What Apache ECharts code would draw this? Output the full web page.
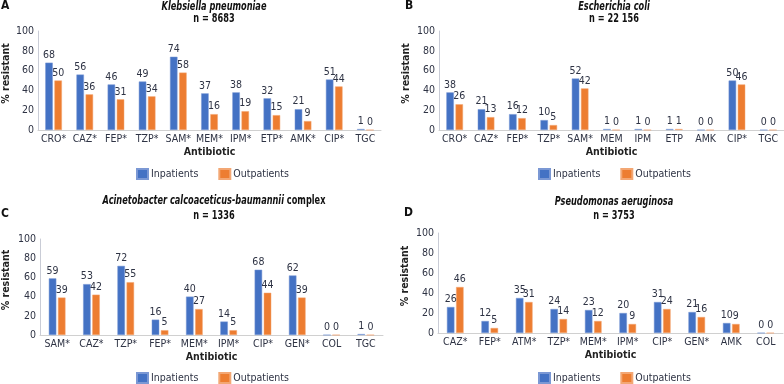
<!DOCTYPE html>
<html>
<head>
<meta charset="utf-8">
<script src="https://cdn.jsdelivr.net/npm/echarts@6/dist/echarts.min.js"></script>
<style>
  html, body { margin: 0; padding: 0; background: #fff; }
  #chart { width: 784px; height: 384px; }
</style>
</head>
<body>
<div id="chart"></div>
<script>
// data
const catsA = ['CRO*', 'CAZ*', 'FEP*', 'TZP*', 'SAM*', 'MEM*', 'IPM*', 'ETP*', 'AMK*', 'CIP*', 'TGC']
const inA = [68, 56, 46, 49, 74, 37, 38, 32, 21, 51, 1]
const outA = [50, 36, 31, 34, 58, 16, 19, 15, 9, 44, 0]

const catsB = ['CRO*', 'CAZ*', 'FEP*', 'TZP*', 'SAM*', 'MEM', 'IPM', 'ETP', 'AMK', 'CIP*', 'TGC']
const inB = [38, 21, 16, 10, 52, 1, 1, 1, 0, 50, 0]
const outB = [26, 13, 12, 5, 42, 0, 0, 1, 0, 46, 0]

const catsC = ['SAM*', 'CAZ*', 'TZP*', 'FEP*', 'MEM*', 'IPM*', 'CIP*', 'GEN*', 'COL', 'TGC']
const inC = [59, 53, 72, 16, 40, 14, 68, 62, 0, 1]
const outC = [39, 42, 55, 5, 27, 5, 44, 39, 0, 0]

const catsD = ['CAZ*', 'FEP*', 'ATM*', 'TZP*', 'MEM*', 'IPM*', 'CIP*', 'GEN*', 'AMK', 'COL']
const inD = [26, 12, 35, 24, 23, 20, 31, 21, 10, 0]
const outD = [46, 5, 31, 14, 12, 9, 24, 16, 9, 0]

const yTicks = [0, 20, 40, 60, 80, 100]

const FONT = "'Liberation Sans Narrow', 'DejaVu Sans Condensed', Roboto, sans-serif"
const FS = 10.5
const BLUE = '#4472c4'
const ORANGE = '#ed7d31'
const TXT = '#2e3344'

const panels = [
  { cats: catsA, ins: inA, outs: outA, grid: { left: 36, top: 31, width: 345, height: 99 }, nameGap: 26, legendLeft: 136, legendTop: 168 },
  { cats: catsB, ins: inB, outs: outB, grid: { left: 439, top: 31, width: 345, height: 99 }, nameGap: 27, legendLeft: 538, legendTop: 168 },
  { cats: catsC, ins: inC, outs: outC, grid: { left: 37, top: 239, width: 346, height: 96 }, nameGap: 28, legendLeft: 136, legendTop: 372 },
  { cats: catsD, ins: inD, outs: outD, grid: { left: 438, top: 233, width: 345, height: 100 }, nameGap: 27, legendLeft: 538, legendTop: 372 }
]

const chart = echarts.init(document.getElementById('chart'), null, { renderer: 'canvas' })

const grids = []
const xAxes = []
const yAxes = []
const series = []
const legends = []

panels.forEach((p, i) => {
  grids.push(p.grid)
  xAxes.push({
    type: 'category',
    gridIndex: i,
    data: p.cats,
    name: 'Antibiotic',
    nameLocation: 'middle',
    nameGap: 17,
    nameTextStyle: { fontFamily: FONT, fontSize: FS, fontWeight: 'bold', color: '#222' },
    axisLine: { lineStyle: { color: '#d0d0d0', width: 1 } },
    axisTick: { show: false },
    axisLabel: { fontFamily: FONT, fontSize: FS, color: TXT, margin: 4, interval: 0 }
  })
  yAxes.push({
    type: 'value',
    gridIndex: i,
    min: yTicks[0],
    max: yTicks[yTicks.length - 1],
    interval: yTicks[1] - yTicks[0],
    name: '% resistant',
    nameLocation: 'middle',
    nameGap: p.nameGap,
    nameTextStyle: { fontFamily: FONT, fontSize: FS, fontWeight: 'bold', color: '#222', padding: [0, 0, 0, 14] },
    axisLine: { show: true, lineStyle: { color: '#c9ccd6', width: 1 } },
    axisTick: { show: false },
    splitLine: { show: false },
    axisLabel: { fontFamily: FONT, fontSize: FS, color: TXT, margin: 4 }
  })
  const lbl = { show: true, position: 'top', distance: 2, fontFamily: FONT, fontSize: FS, color: TXT }
  series.push({
    name: 'Inpatients', type: 'bar', xAxisIndex: i, yAxisIndex: i,
    data: p.ins, barWidth: 7.5, barGap: '22%',
    itemStyle: { color: BLUE, borderColor: '#7b98d4', borderWidth: 0.5 },
    label: lbl
  })
  series.push({
    name: 'Outpatients', type: 'bar', xAxisIndex: i, yAxisIndex: i,
    data: p.outs, barWidth: 7.5, barGap: '22%',
    itemStyle: { color: ORANGE, borderColor: '#f3a774', borderWidth: 0.5 },
    label: lbl
  })
  legends.push({
    data: ['Inpatients', 'Outpatients'],
    left: p.legendLeft,
    top: p.legendTop,
    padding: 0,
    itemWidth: 11,
    itemHeight: 10,
    itemGap: 20,
    icon: 'rect',
    selectedMode: false,
    textStyle: { fontFamily: FONT, fontSize: FS, color: TXT, padding: [0, 0, 0, -2] }
  })
})

const rich = {
  i: { fontFamily: FONT, fontSize: 12, fontWeight: 'bold', fontStyle: 'italic', fill: '#111' },
  b: { fontFamily: FONT, fontSize: 12, fontWeight: 'bold', fill: '#111' }
}
function titleText(x, y, parts) {
  return {
    type: 'text', x: x, y: y, scaleX: 0.76,
    style: {
      text: parts, rich: rich, align: 'center', verticalAlign: 'middle',
      fontFamily: FONT, fontSize: 12, fontWeight: 'bold', fill: '#111'
    }
  }
}
function letter(x, y, t) {
  return { type: 'text', x: x, y: y, style: { text: t, fontFamily: FONT, fontSize: 12, fontWeight: 'bold', fill: '#111', verticalAlign: 'middle' } }
}

const graphics = [
  letter(1, 6, 'A'),
  letter(405, 6, 'B'),
  letter(1, 214, 'C'),
  letter(404, 213, 'D'),
  titleText(214, 6.5, '{i|Klebsiella pneumoniae}'),
  titleText(214, 19, '{b|n = 8683}'),
  titleText(614, 6.5, '{i|Escherichia coli}'),
  titleText(614, 19, '{b|n = 22 156}'),
  titleText(214, 201, '{i|Acinetobacter calcoaceticus-baumannii}{b| complex}'),
  titleText(214, 215.5, '{b|n = 1336}'),
  titleText(614, 202, '{i|Pseudomonas aeruginosa}'),
  titleText(614, 216, '{b|n = 3753}')
]

chart.setOption({
  animation: false,
  textStyle: { fontFamily: FONT },
  grid: grids,
  xAxis: xAxes,
  yAxis: yAxes,
  legend: legends,
  graphic: graphics,
  series: series
})
</script>
</body>
</html>
